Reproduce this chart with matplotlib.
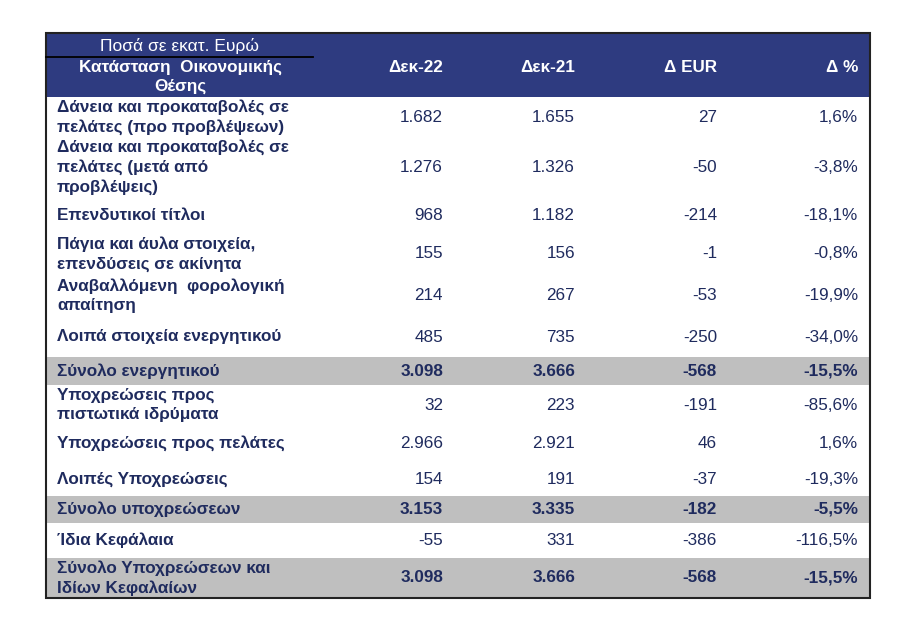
import matplotlib.pyplot as plt
from matplotlib.patches import Rectangle

plt.rcParams['font.family'] = ['Liberation Sans', 'DejaVu Sans']

# Table data
unit_label = 'Ποσά σε εκατ. Ευρώ'
title_label = 'Κατάσταση  Οικονομικής\nΘέσης'
columns = ['Δεκ-22', 'Δεκ-21', 'Δ EUR', 'Δ %']

row_labels = [
    'Δάνεια και προκαταβολές σε\nπελάτες (προ προβλέψεων)',
    'Δάνεια και προκαταβολές σε\nπελάτες (μετά από\nπροβλέψεις)',
    'Επενδυτικοί τίτλοι',
    'Πάγια και άυλα στοιχεία,\nεπενδύσεις σε ακίνητα',
    'Αναβαλλόμενη  φορολογική\nαπαίτηση',
    'Λοιπά στοιχεία ενεργητικού',
    'Σύνολο ενεργητικού',
    'Υποχρεώσεις προς\nπιστωτικά ιδρύματα',
    'Υποχρεώσεις προς πελάτες',
    'Λοιπές Υποχρεώσεις',
    'Σύνολο υποχρεώσεων',
    'Ίδια Κεφάλαια',
    'Σύνολο Υποχρεώσεων και\nΙδίων Κεφαλαίων',
]
dec22 = ['1.682', '1.276', '968', '155', '214', '485', '3.098',
         '32', '2.966', '154', '3.153', '-55', '3.098']
dec21 = ['1.655', '1.326', '1.182', '156', '267', '735', '3.666',
         '223', '2.921', '191', '3.335', '331', '3.666']
delta_eur = ['27', '-50', '-214', '-1', '-53', '-250', '-568',
             '-191', '46', '-37', '-182', '-386', '-568']
delta_pct = ['1,6%', '-3,8%', '-18,1%', '-0,8%', '-19,9%', '-34,0%', '-15,5%',
             '-85,6%', '1,6%', '-19,3%', '-5,5%', '-116,5%', '-15,5%']
is_total = [False, False, False, False, False, False, True,
            False, False, False, True, False, True]

# Layout (pixels)
W, H = 910, 619
left, right = 46, 870
top, header_bottom = 33, 97
row_edges = [97, 137, 197, 234, 274, 317, 357, 385, 425, 462, 496, 523, 558, 598]
col_right = [443, 575, 717, 858]
label_x = 57

header_blue = '#2E3B80'
text_navy = '#1F2B5E'
gray = '#BFBFBF'
fs = 12.3
ls = 1.35

fig = plt.figure(figsize=(W / 100, H / 100), dpi=100)
ax = fig.add_axes([0, 0, 1, 1])
ax.set_xlim(0, W)
ax.set_ylim(H, 0)
ax.axis('off')

# Header
ax.add_patch(Rectangle((left, top), right - left, header_bottom - top,
                       facecolor=header_blue, edgecolor='none'))
ax.plot([left, 313], [57, 57], color='black', lw=1.3)
ax.text(180, 46, unit_label, color='white', fontsize=12.5,
        ha='center', va='center')
ax.text(180, 77, title_label, color='white', fontsize=fs, fontweight='bold',
        ha='center', va='center', linespacing=ls)
for x, c in zip(col_right, columns):
    ax.text(x, 67, c, color='white', fontsize=fs, fontweight='bold',
            ha='right', va='center')

# Body rows
for i, lab in enumerate(row_labels):
    y0, y1 = row_edges[i], row_edges[i + 1]
    yc = (y0 + y1) / 2
    if is_total[i]:
        ax.add_patch(Rectangle((left, y0), right - left, y1 - y0,
                               facecolor=gray, edgecolor='none'))
    ax.text(label_x, yc, lab, color=text_navy, fontsize=fs, fontweight='bold',
            ha='left', va='center', linespacing=ls)
    weight = 'bold' if is_total[i] else 'normal'
    for x, v in zip(col_right, [dec22[i], dec21[i], delta_eur[i], delta_pct[i]]):
        ax.text(x, yc, v, color=text_navy, fontsize=fs, fontweight=weight,
                ha='right', va='center')

# Outer border
ax.add_patch(Rectangle((left, top), right - left, row_edges[-1] - top,
                       facecolor='none', edgecolor='#222222', lw=1.5))

fig.savefig('out.png', dpi=100)
